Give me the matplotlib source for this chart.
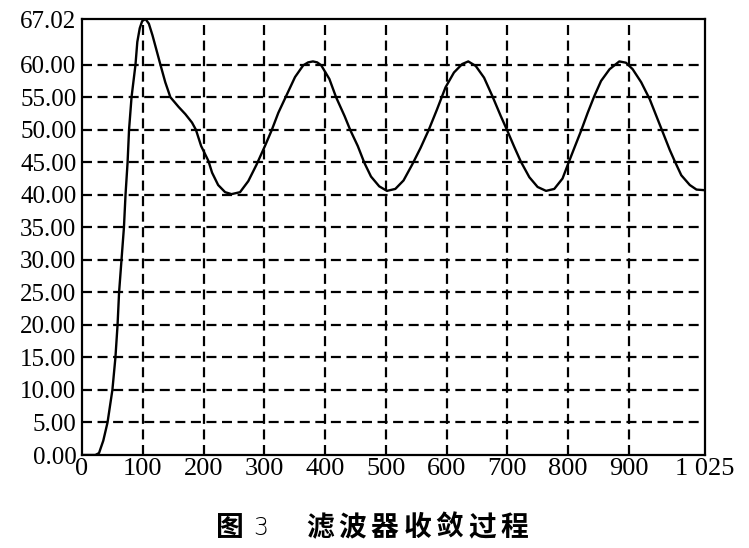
import matplotlib
matplotlib.use("Agg")
import matplotlib.pyplot as plt

# ---- data ----
iters = [0, 22, 28, 35, 42, 50, 55, 58.5, 61, 65, 69, 71.6, 75, 77.4, 81.5, 88, 91, 95, 99, 104.4,
         110, 116, 121.8, 129, 137, 145.4, 159, 170, 181, 187.4, 196, 208, 214, 224, 235.5, 246,
         260, 273.6, 287, 301, 312, 323, 335, 350.5, 364, 372, 380, 387, 393.6, 407, 418, 432,
         441.6, 453.7, 464.6, 475.5, 489, 501.7, 515.5, 529, 543, 557, 570.6, 584, 598, 612,
         625.6, 635.5, 647.8, 661.5, 675, 689, 700, 711, 722, 736, 749.6, 763.5, 777, 790.6,
         800, 810, 821, 832, 843, 854, 868, 884, 895, 906, 920, 934, 945, 956, 967, 975.5,
         986, 1000, 1011, 1025]
values = [0.0, 0.0, 0.3, 2.2, 5.0, 10.0, 15.0, 20.0, 25.0, 30.0, 35.0, 40.0, 45.0, 50.0, 55.0, 60.0, 63.5, 65.6, 66.7, 67.02,
          66.3, 64.5, 62.5, 60.0, 57.3, 55.0, 53.5, 52.4, 51.1, 50.0, 47.5, 45.2, 43.4, 41.5, 40.4, 40.1,
          40.4, 42.1, 44.6, 47.5, 49.9, 52.6, 55.0, 58.1, 59.9, 60.35, 60.5, 60.35, 59.9, 57.8, 55.0, 52.1,
          49.9, 47.5, 44.9, 42.8, 41.3, 40.6, 40.9, 42.2, 44.6, 47.2, 50.0, 53.1, 56.5, 58.8,
          60.1, 60.5, 59.8, 58.0, 55.2, 52.1, 49.8, 47.4, 45.1, 42.7, 41.2, 40.6, 40.9, 42.5,
          44.8, 47.2, 49.8, 52.6, 55.2, 57.5, 59.3, 60.5, 60.3, 59.3, 57.3, 54.7, 52.1, 49.5, 46.9, 45.1,
          43.0, 41.5, 40.8, 40.7]

ytick_vals = [0, 5, 10, 15, 20, 25, 30, 35, 40, 45, 50, 55, 60, 67.02]
ytick_labels = ["0.00", "5.00", "10.00", "15.00", "20.00", "25.00", "30.00", "35.00",
                "40.00", "45.00", "50.00", "55.00", "60.00", "67.02"]
xtick_vals = [0, 100, 200, 300, 400, 500, 600, 700, 800, 900, 1025]
xtick_labels = ["0", "100", "200", "300", "400", "500", "600", "700", "800", "900", "1 025"]
grid_x = [100, 200, 300, 400, 500, 600, 700, 800, 900]
grid_y = [5, 10, 15, 20, 25, 30, 35, 40, 45, 50, 55, 60]
caption_fig = "图"
caption_num = "3"
caption_text = "滤波器收敛过程"

# ---- figure ----
fig = plt.figure(figsize=(7.49, 5.48), dpi=100)
ax = fig.add_axes([82 / 749, 1 - 455 / 548, (705 - 82) / 749, (455 - 19) / 548])

for gx in grid_x:
    ax.axvline(gx, color="black", lw=1.6, linestyle=(0, (4.5, 2.5)), zorder=1)
for gy in grid_y:
    ax.axhline(gy, color="black", lw=1.6, linestyle=(0, (4.5, 2.5)), zorder=1)

ax.plot(iters, values, color="black", lw=1.7, zorder=3,
        solid_joinstyle="round", solid_capstyle="round")

ax.set_xlim(0, 1025)
ax.set_ylim(0, 67.02)
ax.set_yticks(ytick_vals)
ax.set_yticklabels(ytick_labels, fontfamily="Liberation Serif", fontsize=18)
ax.set_xticks(xtick_vals)
ax.set_xticklabels(xtick_labels, fontfamily="Liberation Serif", fontsize=19)
ax.tick_params(axis="both", length=0, pad=4)
ax.tick_params(axis="x", pad=2)
for s in ax.spines.values():
    s.set_linewidth(1.6)
    s.set_color("black")

cap_y = 1 - 528 / 548
fig.text(229.5 / 749, cap_y, caption_fig, fontfamily="Noto Sans CJK SC",
         fontweight="bold", fontsize=20, ha="center", va="center")
fig.text(261 / 749, cap_y, caption_num, fontfamily="DejaVu Sans",
         fontsize=17, ha="center", va="center", fontweight="light")
for i, ch in enumerate(caption_text):
    fig.text((320 + 32.4 * i) / 749, cap_y, ch, fontfamily="Noto Sans CJK SC",
             fontweight="bold", fontsize=20, ha="center", va="center")

fig.savefig("out.png", dpi=100, facecolor="white")
